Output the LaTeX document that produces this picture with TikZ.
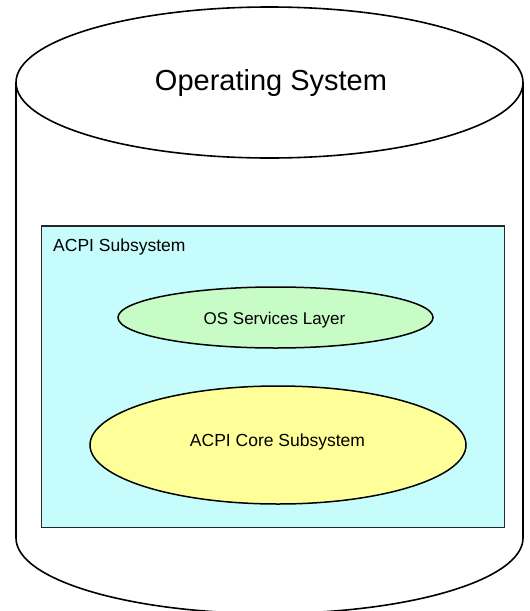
\documentclass[tikz,border=0pt]{standalone}
\usepackage{fontspec}
\setmainfont{Liberation Sans}
\begin{document}
\begin{tikzpicture}[x=1pt,y=-1pt,
  outline/.style={draw=black,line width=1.6pt},
  label/.style={inner sep=0pt,anchor=base,text=black},
]
\definecolor{subsysfill}{RGB}{199,252,252}
\definecolor{servfill}{RGB}{199,252,199}
\definecolor{corefill}{RGB}{255,255,153}
\useasboundingbox (0,0) rectangle (530,611);

% cylinder body: sides and lower rim
\draw[outline,fill=white] (16,82.5) -- (16,538)
  arc[start angle=180,end angle=360,x radius=253.5pt,y radius=75.5pt]
  -- (523,82.5);
% cylinder top
\draw[outline,fill=white] (269.5,82.5) ellipse[x radius=253.5pt,y radius=75.5pt];
\node[label,font=\fontsize{29}{31}\selectfont] (os) at (271,90) {Operating System};

% ACPI subsystem box
\node[draw=black!85,line width=1.5pt,fill=subsysfill,inner sep=0pt,
  minimum width=463pt,minimum height=301.5pt] (acpi) at (273,376.75) {};
\node[label,anchor=base west,font=\fontsize{17.5}{19}\selectfont] (acpilbl) at (53,251.7) {ACPI Subsystem};

% OS services layer
\draw[line width=1.5pt,fill=servfill] (275.5,317.5) ellipse[x radius=157.5pt,y radius=30.5pt];
\node[label,font=\fontsize{17}{19}\selectfont] (osl) at (274.5,324) {OS Services Layer};

% ACPI core subsystem
\draw[line width=1.5pt,fill=corefill] (278,445) ellipse[x radius=188pt,y radius=59pt];
\node[label,font=\fontsize{17.5}{19}\selectfont] (core) at (277.5,446) {ACPI Core Subsystem};
\end{tikzpicture}
\end{document}
